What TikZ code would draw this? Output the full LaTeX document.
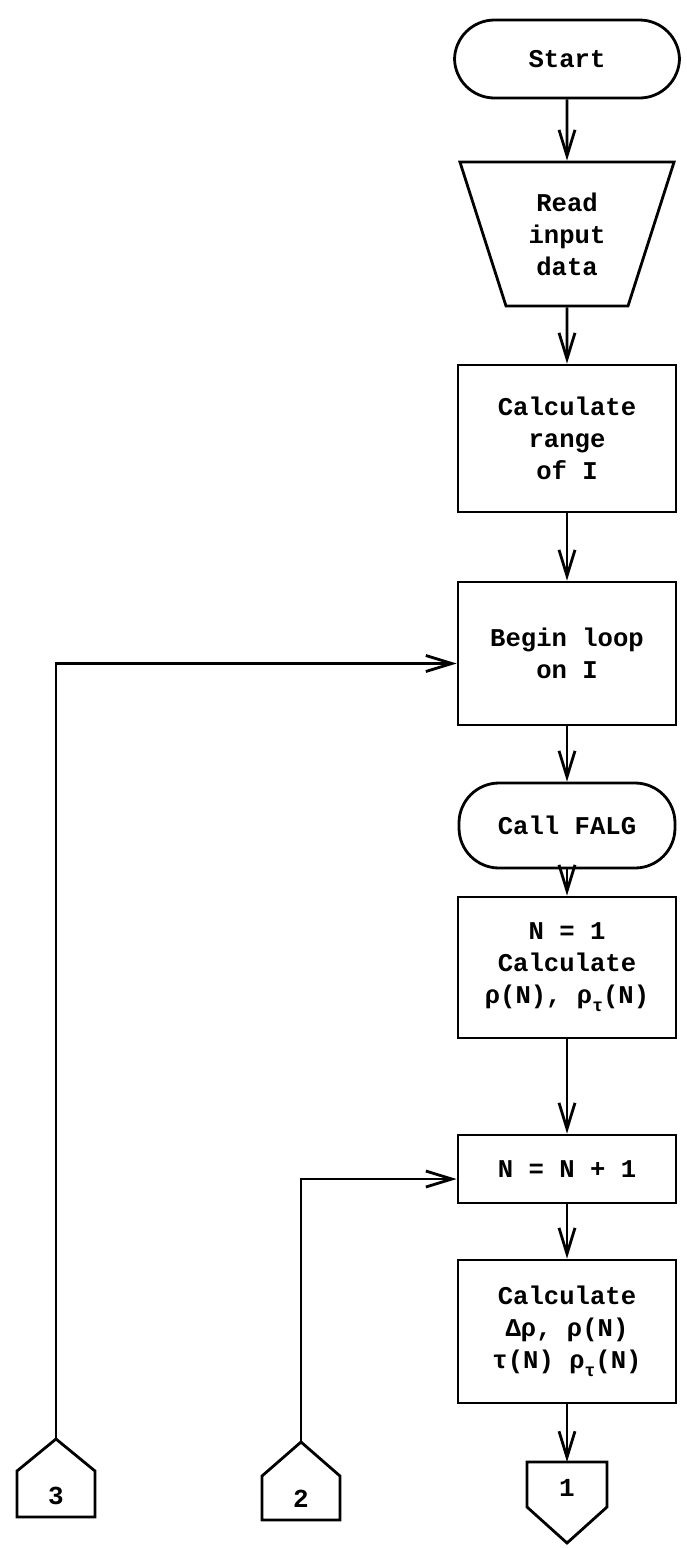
\documentclass[tikz,border=0pt]{standalone}
\usepackage{fontspec}
\setmainfont{Liberation Mono}
\usetikzlibrary{arrows.meta,shapes.geometric}

\newcommand{\chartfont}{\bfseries\fontsize{12.8}{16}\selectfont}
\newcommand{\subtau}{\raisebox{-4pt}{\fontsize{9}{9}\selectfont τ}}

\begin{document}
\begin{tikzpicture}[x=0.5pt, y=-0.5pt, line width=1.4pt,
  box/.style={draw, align=center, minimum width=109pt, font=\chartfont},
  term/.style={draw, rounded corners=20pt, align=center, font=\chartfont},
  arr/.style={-{Straight Barb[length=13pt,width=8pt]}},
  conlabel/.style={font=\bfseries\fontsize{13}{13}\selectfont}]
  \useasboundingbox (0,0) rectangle (686,1548);

  \node[term, minimum width=112.5pt, minimum height=39pt] (start) at (567,59) {Start};
  \node[draw, trapezium, trapezium angle=70.5, shape border rotate=180, trapezium stretches=true,
        minimum width=107.5pt, minimum height=72pt, align=center, font=\chartfont] (read) at (567,234) {Read\\input\\data};
  \node[box, minimum height=73.5pt] (range) at (567,438.5) {Calculate\\range\\of I};
  \node[box, minimum height=71.5pt] (loop) at (567,653.5) {Begin loop\\on I};
  \node[term, minimum width=108pt, minimum height=42.5pt] (falg) at (567,825.5) {Call FALG};
  \node[box, minimum height=70.5pt] (init) at (567,967.5) {N = 1\\Calculate\\ρ(N), ρ\subtau(N)};
  \node[box, minimum height=34pt] (incr) at (567,1169) {N = N + 1};
  \node[box, minimum height=71.5pt] (calc) at (567,1331.5) {Calculate\\Δρ, ρ(N)\\τ(N) ρ\subtau(N)};

  % off-page connectors
  \coordinate (c3) at (56,1439);
  \coordinate (c2) at (301,1442);
  \coordinate (c1) at (567,1462);
  \draw (c3) -- (95,1471) -- (95,1517) -- (17,1517) -- (17,1471) -- cycle;
  \draw (c2) -- (340,1476) -- (340,1520) -- (262,1520) -- (262,1476) -- cycle;
  \draw (c1) -- (607,1462) -- (607,1507) -- (567,1543) -- (527,1507) -- (527,1462) -- cycle;
  \node[conlabel] (n3) at (56,1496) {3};
  \node[conlabel] (n2) at (301,1499) {2};
  \node[conlabel] (n1) at (567,1488) {1};

  \draw[arr] (start) -- (read);
  \draw[arr] (read) -- (range);
  \draw[arr] (range) -- (loop);
  \draw[arr] (loop) -- (falg);
  \draw[arr] (falg) -- (init);
  \draw[arr] (init) -- (incr);
  \draw[arr] (incr) -- (calc);
  \draw[arr] (calc) -- (c1);
  \draw[arr] (c3) |- ([yshift=-5pt]loop.west);
  \draw[arr] (c2) |- ([yshift=-5pt]incr.west);
\end{tikzpicture}
\end{document}
